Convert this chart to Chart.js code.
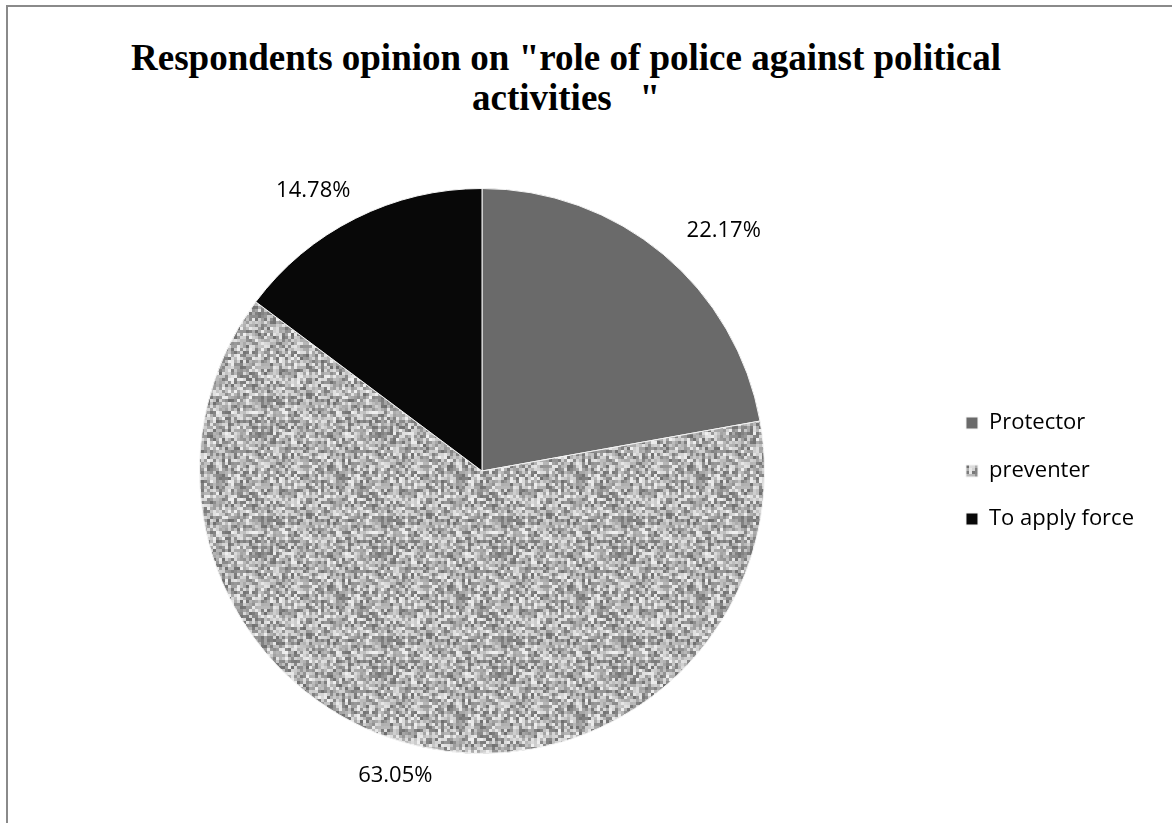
<!DOCTYPE html>
<html lang="en">
<head>
<meta charset="UTF-8">
<title>Role of police against political activities</title>
<script src="https://cdn.jsdelivr.net/npm/chart.js"></script>
<style>
  body {
    margin: 0;
    padding: 0;
    background: #fff;
    width: 1172px;
    height: 823px;
    overflow: hidden;
    position: relative;
  }
  .frame {
    position: absolute;
    left: 6px;
    top: 5px;
    width: 1300px;
    height: 1000px;
    border-left: 2px solid #8a8a8a;
    border-top: 2px solid #8a8a8a;
  }
  .chart-title {
    position: absolute;
    left: 0;
    width: 1132px;
    top: 38px;
    text-align: center;
    font-family: "Liberation Serif", "DejaVu Serif", serif;
    font-weight: bold;
    font-size: 37px;
    line-height: 40px;
    color: #000;
  }
  #pie-chart {
    position: absolute;
    left: 0;
    top: 0;
  }
</style>
</head>
<body>
<div class="frame"></div>
<div class="chart-title">Respondents opinion on "role of police against political<br>activities &nbsp;&nbsp;"</div>
<canvas id="pie-chart" width="1172" height="823"></canvas>
<script>
  // values
  const roles = ['Protector', 'preventer', 'To apply force'];
  const shares = [22.17, 63.05, 14.78];
  const shadeColors = ['#6a6a6a', 'speckle', '#080808'];

  // grey granite look for the "preventer" slice
  function speckle() {
    const c = document.createElement('canvas');
    c.width = 120; c.height = 120;
    const g = c.getContext('2d');
    for (let i = 0; i < 40; i++) {
      for (let j = 0; j < 40; j++) {
        const s = Math.sin(i * 12.9898 + j * 78.233) * 43758.5453;
        const f = s - Math.floor(s);
        const v = Math.round(110 + f * 130);
        g.fillStyle = 'rgb(' + v + ',' + v + ',' + v + ')';
        g.fillRect(i * 3, j * 3, 3, 3);
      }
    }
    return g.createPattern(c, 'repeat');
  }

  const ctx = document.getElementById('pie-chart').getContext('2d');
  const fills = shadeColors.map(c => c === 'speckle' ? speckle() : c);

  // percentage labels just outside each slice
  const outsideLabels = {
    id: 'outsideLabels',
    afterDatasetsDraw(chart) {
      const c = chart.ctx;
      const meta = chart.getDatasetMeta(0);
      c.save();
      c.font = '22px "Open Sans", sans-serif';
      c.fillStyle = '#000';
      c.textAlign = 'center';
      c.textBaseline = 'middle';
      meta.data.forEach((arc, i) => {
        const p = arc.getProps(['x', 'y', 'startAngle', 'endAngle', 'outerRadius'], true);
        const mid = (p.startAngle + p.endAngle) / 2;
        const txt = shares[i].toFixed(2) + '%';
        const w = c.measureText(txt).width;
        const h = 22;
        const r = p.outerRadius + 20;
        const x = p.x + r * Math.cos(mid) + w * Math.cos(mid);
        const y = p.y + r * Math.sin(mid) + (h / 2) * Math.sin(mid);
        c.fillText(txt, x, y);
      });
      c.restore();
    }
  };

  const chart = new Chart(ctx, {
    type: 'pie',
    data: {
      labels: roles,
      datasets: [{
        data: shares,
        backgroundColor: fills,
        borderColor: '#f4f4f4',
        borderWidth: 1
      }]
    },
    options: {
      responsive: false,
      animation: false,
      layout: {
        padding: { left: 24, right: 28, top: 188, bottom: 69 }
      },
      plugins: {
        title: { display: false },
        tooltip: { enabled: false },
        legend: {
          position: 'right',
          labels: {
            boxWidth: 12,
            boxHeight: 12,
            padding: 26,
            color: '#000',
            font: { family: '"Open Sans", sans-serif', size: 22 }
          }
        }
      }
    },
    plugins: [outsideLabels]
  });
</script>
</body>
</html>
